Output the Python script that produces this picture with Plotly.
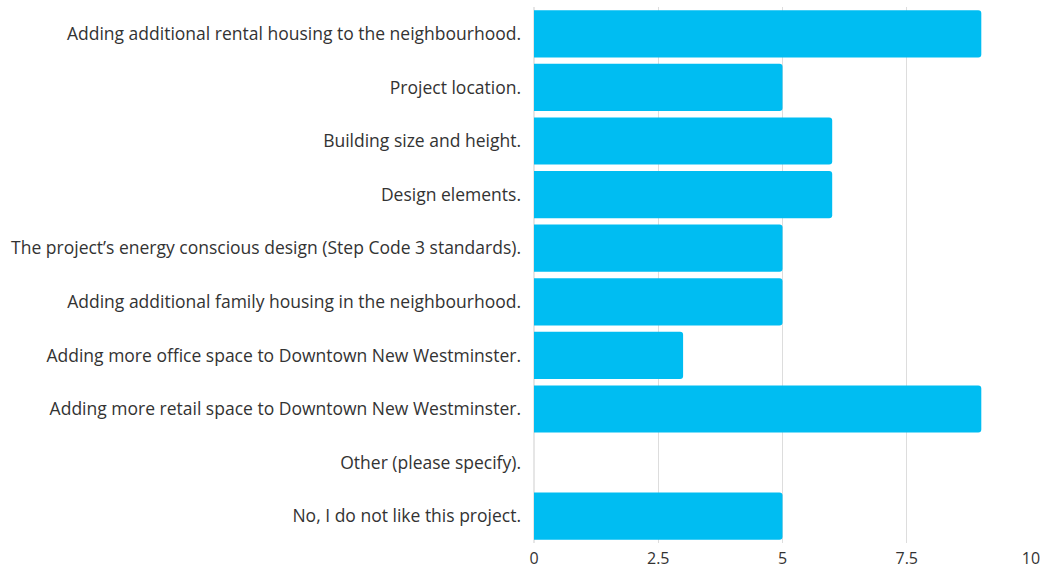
import plotly.graph_objects as go

categories = [
    "Adding additional rental housing to the neighbourhood.",
    "Project location.",
    "Building size and height.",
    "Design elements.",
    "The project’s energy conscious design (Step Code 3 standards).",
    "Adding additional family housing in the neighbourhood.",
    "Adding more office space to Downtown New Westminster.",
    "Adding more retail space to Downtown New Westminster.",
    "Other (please specify).",
    "No, I do not like this project.",
]
values = [9, 5, 6, 6, 5, 5, 3, 9, 0, 5]
tick_vals = [0, 2.5, 5, 7.5, 10]
tick_text = ["0", "2.5", "5", "7.5", "10"]

fig = go.Figure(go.Bar(
    x=values, y=categories, orientation="h",
    marker=dict(color="#00BDF2", line=dict(width=0)),
    hoverinfo="x+y",
))

fig.update_layout(
    width=1045, height=569,
    margin=dict(l=534, r=14, t=7, b=26),
    paper_bgcolor="white", plot_bgcolor="white",
    bargap=0.12,
    barcornerradius=3,
    font=dict(family="Open Sans, Noto Sans, sans-serif", size=17, color="#333333"),
    showlegend=False,
)
fig.update_xaxes(
    range=[0, 10], tickvals=tick_vals, ticktext=tick_text,
    showgrid=True, gridcolor="#dddddd", gridwidth=1,
    zeroline=True, zerolinecolor="#e6e6e6", showline=False,
    ticks="", ticklabelstandoff=4, automargin=False,
    tickfont=dict(size=16, color="#333333"),
)
fig.update_yaxes(
    categoryorder="array", categoryarray=categories[::-1],
    autorange=True, showgrid=False, zeroline=False, showline=False,
    ticks="", ticklabelstandoff=12, automargin=False,
    tickfont=dict(size=17.5, color="#333333"),
)

fig.write_html("out.html")
